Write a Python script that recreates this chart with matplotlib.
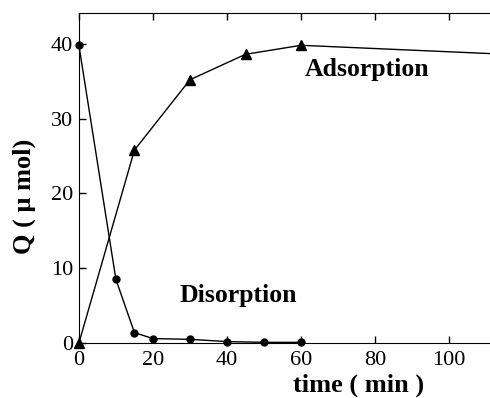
import matplotlib
matplotlib.use('Agg')
import matplotlib.pyplot as plt

# dados
tempo_ads = [0, 15, 30, 45, 60, 120]
q_ads = [0.0, 25.8, 35.2, 38.6, 39.8, 38.5]
tempo_des = [0, 10, 15, 20, 30, 40, 50, 60]
q_des = [39.8, 8.5, 1.4, 0.6, 0.5, 0.2, 0.1, 0.1]

plt.rcParams['font.family'] = ['Liberation Serif', 'DejaVu Serif']

fig = plt.figure(figsize=(4.9, 3.98), dpi=100)
ax = fig.add_axes([0.161, 0.138, 0.839, 0.829])

ax.plot(tempo_ads[:-1], q_ads[:-1], color='black', lw=1, marker='^', ms=6.5, clip_on=False, zorder=3)
ax.plot(tempo_ads[-2:], q_ads[-2:], color='black', lw=1)
ax.plot(tempo_des, q_des, color='black', lw=1, marker='o', ms=5, clip_on=False, zorder=3)

ax.set_xlim(0, 111)
ax.set_ylim(0, 44.1)
ax.set_xticks([0, 20, 40, 60, 80, 100])
ax.set_yticks([0, 10, 20, 30, 40])
ax.tick_params(direction='in', top=True, right=False, labelsize=16, length=5, width=1)
ax.tick_params(axis='x', pad=6)
ax.tick_params(axis='y', pad=4)
ax.spines['right'].set_visible(False)

ax.text(61, 36.5, 'Adsorption', fontsize=18.5, fontweight='bold', va='center')
ax.text(27.3, 6.3, 'Disorption', fontsize=18.5, fontweight='bold', va='center')

fig.text(358.5 / 490, 1 - 385 / 398, 'time ( min )', fontsize=19, fontweight='bold',
         ha='center', va='center')
fig.text(24 / 490, 1 - 196 / 398, 'Q ( \u03bc mol)', fontsize=19, fontweight='bold',
         ha='center', va='center', rotation=90)

fig.savefig('out.png', dpi=100)
